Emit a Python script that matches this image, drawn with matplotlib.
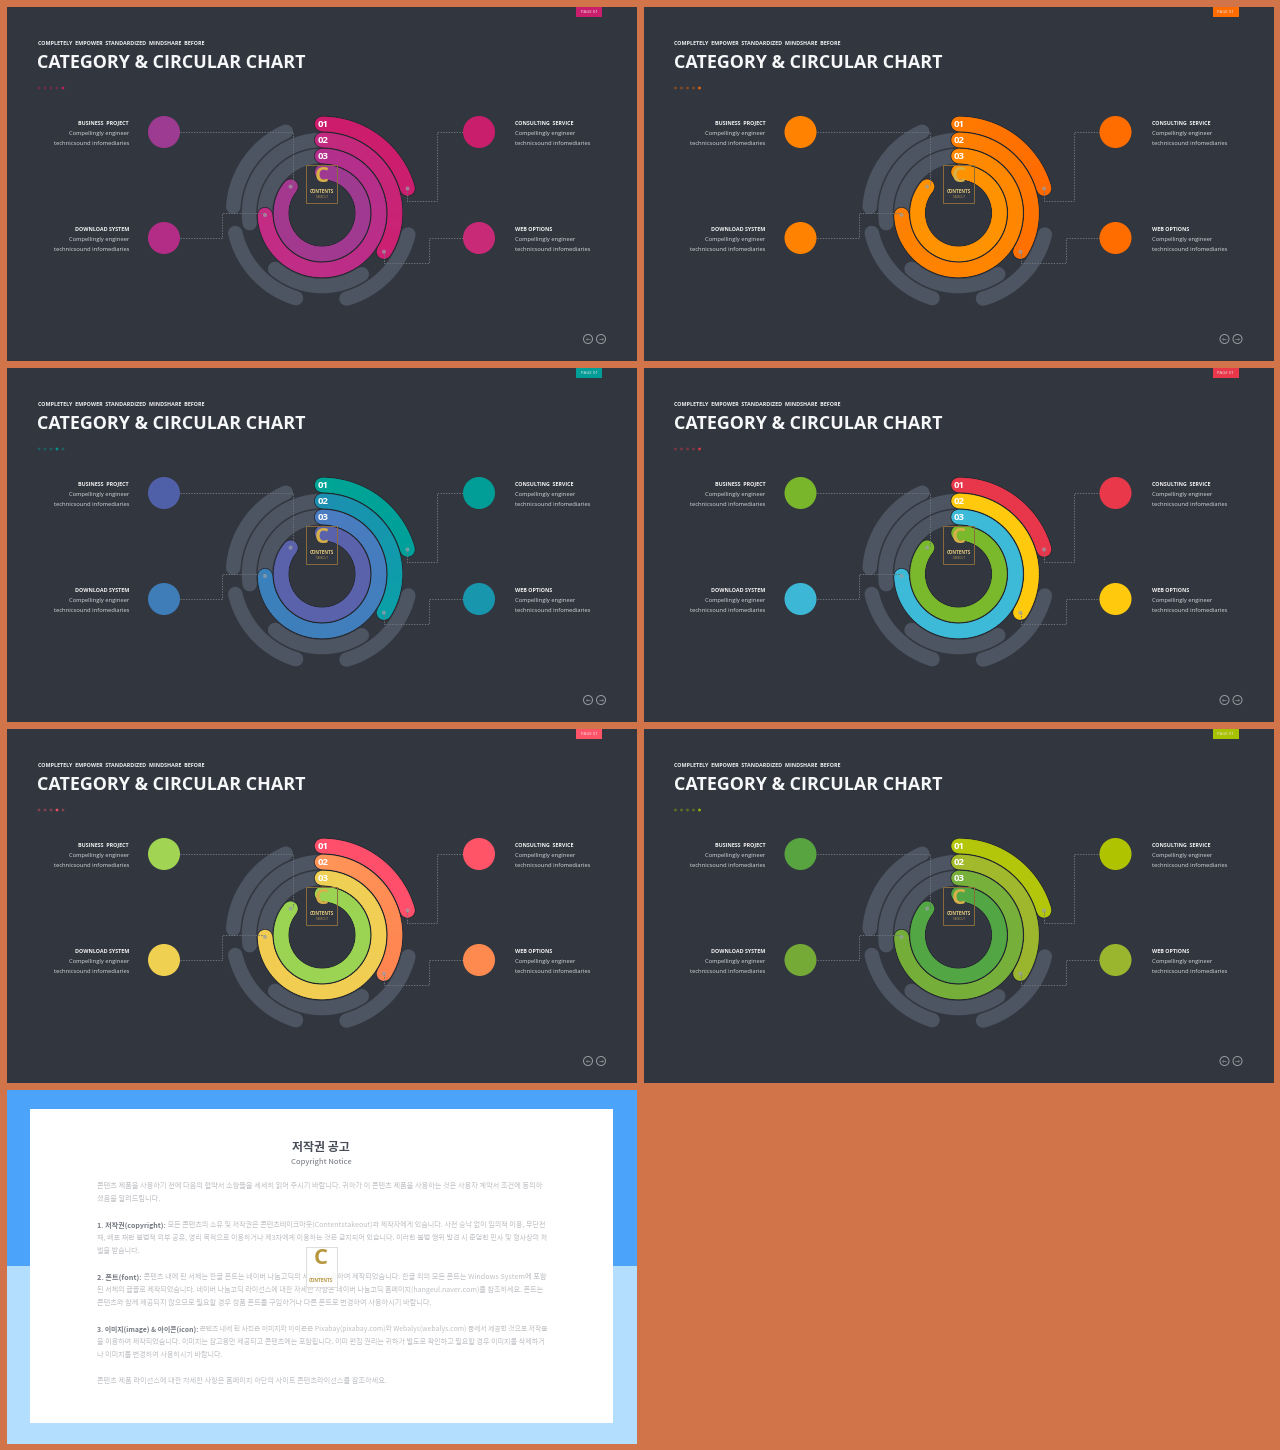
import numpy as np
import matplotlib
matplotlib.use('Agg')
import matplotlib.pyplot as plt
from matplotlib.collections import LineCollection
from matplotlib.colors import to_rgb
from matplotlib.patches import Circle, Rectangle

plt.rcParams['font.family'] = ['Open Sans', 'DejaVu Sans']

heading = 'COMPLETELY  EMPOWER  STANDARDIZED  MINDSHARE  BEFORE'
title = 'CATEGORY & CIRCULAR CHART'
page_tag = 'PAGE 01'
label_titles = ['BUSINESS  PROJECT', 'CONSULTING  SERVICE', 'DOWNLOAD SYSTEM', 'WEB OPTIONS']
label_lines = ['Compellingly engineer', 'technicsound infomediaries']
ring_labels = ['01', '02', '03']

# rings: radius, end angle (degrees clockwise from 12 o'clock)
ring_radius = [89, 73, 57, 41]
ring_end = [74, 122, 268, 310]

# grey background arcs: radius, from, to
grey_radius = [89, 89, 89, 73, 73, 57]
grey_start = [274, 197, 104, 262, 147, 270]
grey_end = [336, 257, 164, 360, 220, 360]

# per panel colours, ring start -> ring end
ring_start_cols = [
    ['#CE1C6C', '#C12A7E', '#B22F8C', '#9E3A92'],
    ['#FF7A00', '#FF7F00', '#FF8A00', '#FF9200'],
    ['#00A596', '#1C8FB0', '#4A7CC0', '#5A62AC'],
    ['#E8374B', '#FFC90E', '#3DBAD8', '#7AB82C'],
    ['#FF4F6A', '#FF9558', '#EFD055', '#9AD452'],
    ['#B4C60A', '#A4BA2C', '#78B03C', '#52A644'],
]
ring_end_cols = [
    ['#CC1E6E', '#CC2072', '#C42C84', '#A4388E'],
    ['#FF6A00', '#FF7000', '#FF8000', '#FF9200'],
    ['#00A09A', '#0BA0A8', '#3A80BA', '#5A62AC'],
    ['#E8374B', '#FFC90E', '#3DBAD8', '#7AB82C'],
    ['#FF4F6A', '#FF8450', '#F2CC50', '#9AD452'],
    ['#B4C60A', '#9AB52E', '#74AE38', '#52A644'],
]
# business, consulting, download, web
circle_cols = [
    ['#9D3B92', '#C91E6C', '#B32C86', '#C92A78'],
    ['#FF8200', '#FF6D00', '#FF8200', '#FF6D00'],
    ['#5060A8', '#009E96', '#3F7DB8', '#1896AE'],
    ['#7AB62C', '#E8384A', '#3CB8D6', '#FFC90E'],
    ['#A0D452', '#FF5468', '#F0D050', '#FF8A50'],
    ['#57A441', '#AFC300', '#74AA35', '#9AB52E'],
]
tag_cols = ['#C91E6C', '#FF6D00', '#009E96', '#E8384A', '#FF5468', '#A6C200']
active_dot = [4, 4, 3, 4, 3, 4]

notice_title = '저작권 공고'
notice_sub = 'Copyright Notice'
notice_lines = [
    ('', '콘텐츠 제품을 사용하기 전에 다음의 협약서 소항들을 세세히 읽어 주시기 바랍니다. 귀하가 이 콘텐츠 제품을 사용하는 것은 사용자 계약서 조건에 동의하'),
    ('', '셨음을 알려드립니다.'),
    ('1. 저작권(copyright):', ' 모든 콘텐츠의 소유 및 저작권은 콘텐츠테이크아웃(Contentstakeout)과 제작자에게 있습니다. 사전 승낙 없이 임의적 이용, 무단전'),
    ('', '재, 배포 재판 불법적 외부 공유, 영리 목적으로 이용하거나 제3자에게 이용하는 것은 금지되어 있습니다. 이러한 불법 행위 발견 시 준엄한 민사 및 형사상의 처'),
    ('', '벌을 받습니다.'),
    ('2. 폰트(font):', ' 콘텐츠 내에 된 서체는 한글 폰트는 네이버 나눔고딕의 서체를 사용하여 제작되었습니다. 한글 외의 모든 폰트는 Windows System에 포함'),
    ('', '된 서체의 글꼴로 제작되었습니다. 네이버 나눔고딕 라이선스에 대한 자세한 사항은 네이버 나눔고딕 홈페이지(hangeul.naver.com)를 참조하세요. 폰트는'),
    ('', '콘텐츠와 함께 제공되지 않으므로 필요할 경우 정품 폰트를 구입하거나 다른 폰트로 변경하여 사용하시기 바랍니다.'),
    ('3. 이미지(image) & 아이콘(icon):', ' 콘텐츠 내에 된 사진은 이미지와 아이콘은 Pixabay(pixabay.com)와 Webalys(webalys.com) 등에서 제공한 것으로 저작물'),
    ('', '을 이용하여 제작되었습니다. 이미지는 참고용만 제공되고 콘텐츠에는 포함됩니다. 이미 편집 권리는 귀하가 별도로 확인하고 필요할 경우 이미지를 삭제하거'),
    ('', '나 이미지를 변경하여 사용하시기 바랍니다.'),
    ('', '콘텐츠 제품 라이선스에 대한 자세한 사항은 홈페이지 하단의 사이트 콘텐츠라이선스를 참조하세요.'),
]
notice_y = [1186, 1199, 1225, 1238, 1251, 1277, 1290, 1303, 1329, 1342, 1355, 1381]
notice_right = [547, 160, 547, 547, 140, 547, 547, 433, 547, 547, 223, 387]

ORANGE = '#D1744A'
PANEL = '#32363F'
GREY = '#4C5561'
OUTLINE = '#22252C'
CJK = ['Noto Sans CJK KR', 'DejaVu Sans']
RING_W = 14.5


def px(v):
    # pixel size to points at dpi 100
    return v * 0.72


def arc_xy(cx, cy, r, a0, a1, n=120):
    t = np.radians(np.linspace(a0, a1, n))
    return cx + r * np.sin(t), cy - r * np.cos(t)


def solid_arc(ax, cx, cy, r, a0, a1, col, lw):
    x, y = arc_xy(cx, cy, r, a0, a1)
    ax.plot(x, y, color=col, lw=px(lw), solid_capstyle='round', zorder=2)


def gradient_arc(ax, cx, cy, r, a0, a1, col0, col1):
    x, y = arc_xy(cx, cy, r, a0, a1)
    pts = np.column_stack([x, y])
    # segments overlap by one step so no seams show
    segs = np.stack([pts[:-2], pts[2:]], axis=1)
    c0, c1 = np.array(to_rgb(col0)), np.array(to_rgb(col1))
    f = np.linspace(0, 1, len(segs))[:, None]
    ax.add_patch(Circle((x[0], y[0]), RING_W / 2, fc=col0, ec='none', zorder=2))
    ax.add_patch(Circle((x[-1], y[-1]), RING_W / 2, fc=col1, ec='none', zorder=2))
    ax.add_collection(LineCollection(segs, colors=c0 + (c1 - c0) * f, linewidths=px(RING_W),
                                     capstyle='butt', zorder=2))


def dotted(ax, xs, ys):
    ax.plot(xs, ys, color='#6E737B', lw=0.75, ls=(0, (1.3, 1.3)), zorder=4)


def logo(ax, cx, top, edge):
    ax.add_patch(Rectangle((cx - 16, top), 31, 38, fill=False, ec=edge, lw=0.7, zorder=6))
    ax.text(cx, top + 11, 'C', color='#D8B04A', fontsize=px(22), fontweight='bold',
            ha='center', va='center', zorder=7)
    ax.text(cx, top + 26, 'CONTENTS', color='#E2C67C', fontsize=px(4.6), fontweight='bold',
            ha='center', va='center', zorder=7)
    ax.text(cx, top + 31.5, 'TAKEOUT', color='#B79A55', fontsize=px(2.8), ha='center', va='center', zorder=7)


def draw_panel(ax, i):
    ox = 636.5 * (i % 2)
    oy = 361 * (i // 2)
    ax.add_patch(Rectangle((7 + ox, 7 + oy), 630, 354, fc=PANEL, ec='none'))

    # header
    ax.text(38 + ox, 43 + oy, heading, color='#ECEDEE', fontsize=px(5.38), fontweight='bold', va='center')
    ax.text(37 + ox, 63 + oy, title, color='#F6F7F8', fontsize=px(17.9), fontweight='bold', va='center')
    for d in range(5):
        lit = d == active_dot[i]
        ax.add_patch(Circle((39 + 6 * d + ox, 88 + oy), 1.4, fc=tag_cols[i], ec='none', alpha=0.9 if lit else 0.4))

    # page tag
    ax.add_patch(Rectangle((576 + ox, 7 + oy), 26, 10, fc=tag_cols[i], ec='none'))
    ax.text(589 + ox, 12 + oy, page_tag, color='#F4E6EE', fontsize=px(4.2), ha='center', va='center')

    # nav buttons
    for bx, arrow in zip([588, 601], ['←', '→']):
        ax.add_patch(Circle((bx + ox, 339 + oy), 4.5, fill=False, ec='#989BA1', lw=0.7))
        ax.text(bx + ox, 339 + oy, arrow, color='#989BA1', fontsize=px(6), ha='center', va='center',
                family='DejaVu Sans')

    cx, cy = 322 + ox, 213 + oy

    # connectors
    dotted(ax, np.array([180, 293, 293]) + ox, np.array([132, 132, 185]) + oy)
    dotted(ax, np.array([180, 222, 222, 264]) + ox, np.array([238, 238, 213, 213]) + oy)
    dotted(ax, np.array([463, 437, 437, 407, 407]) + ox, np.array([132, 132, 201, 201, 189]) + oy)
    dotted(ax, np.array([463, 429, 429, 384, 384]) + ox, np.array([238, 238, 263, 263, 251]) + oy)

    # grey arcs
    for r, a0, a1 in zip(grey_radius, grey_start, grey_end):
        solid_arc(ax, cx, cy, r, a0, a1, GREY, RING_W)

    # coloured rings, outer first so that the outlines stack right
    for k in range(4):
        r = ring_radius[k]
        solid_arc(ax, cx, cy, r, 0, ring_end[k], OUTLINE, RING_W + 1.6)
        gradient_arc(ax, cx, cy, r, 0, ring_end[k], ring_start_cols[i][k], ring_end_cols[i][k])
        ex, ey = arc_xy(cx, cy, r, ring_end[k], ring_end[k], n=1)
        ax.add_patch(Circle((ex[0], ey[0]), 2, fc='#9AA0A8', ec='none', alpha=0.7, zorder=5))

    for lab, r in zip(ring_labels, ring_radius):
        ax.text(cx + 1, cy - r, lab, color='white', fontsize=px(9.5), fontweight='bold',
                ha='center', va='center', zorder=6)

    logo(ax, cx, 165 + oy, '#8A6D3B')

    # side circles and labels
    sides = [(164, 132, 129, 'right'), (479, 132, 515, 'left'), (164, 238, 129, 'right'), (479, 238, 515, 'left')]
    for j, (bx, by, tx, ha) in enumerate(sides):
        ax.add_patch(Circle((bx + ox, by + oy), 16, fc=circle_cols[i][j], ec='none', zorder=5))
        ax.text(tx + ox, by - 9 + oy, label_titles[j], color='#F0F0F0', fontsize=px(5.4), fontweight='bold',
                ha=ha, va='center')
        for n, line in enumerate(label_lines):
            ax.text(tx + ox, by + 1 + 10 * n + oy, line, color='#D6D8DB', fontsize=px(5.8), ha=ha, va='center')


def fit_line(parts, right, renderer):
    # shrink or grow the runs of one line until it ends at right
    for _ in range(3):
        total = sum(p.get_window_extent(renderer).width for p in parts)
        scale = (right - 97) / total
        pos = 97
        for p in parts:
            p.set_fontsize(p.get_fontsize() * scale)
            p.set_x(pos)
            pos += p.get_window_extent(renderer).width


def draw_notice(ax, fig):
    ax.add_patch(Rectangle((7, 1090), 630, 176, fc='#4BA4FA', ec='none'))
    ax.add_patch(Rectangle((7, 1266), 630, 178, fc='#B3DEFD', ec='none'))
    ax.add_patch(Rectangle((30, 1109), 583, 314, fc='white', ec='none'))
    ax.text(321, 1147, notice_title, color='#484D58', fontsize=px(12), fontweight='bold', family=CJK,
            ha='center', va='center')
    ax.text(321, 1162, notice_sub, color='#70747C', fontsize=px(7.7), family=CJK, ha='center', va='center')

    renderer = fig.canvas.get_renderer()
    for (bold, body), y, right in zip(notice_lines, notice_y, notice_right):
        parts = []
        if bold:
            parts.append(ax.text(97, y, bold, color='#777B83', fontsize=px(7.4), fontweight='bold',
                                 family=CJK, va='center'))
        parts.append(ax.text(97, y, body, color='#C0C2C6', fontsize=px(7.4), family=CJK, va='center'))
        fit_line(parts, right, renderer)

    ax.add_patch(Rectangle((306, 1247), 31, 40, fc='#FFFFFF', ec='#D8D8D8', lw=0.7, alpha=0.85, zorder=6))
    ax.text(321, 1258, 'C', color='#B8963E', fontsize=px(22), fontweight='bold', ha='center', va='center', zorder=7)
    ax.text(321, 1280, 'CONTENTS', color='#B8963E', fontsize=px(4.6), fontweight='bold', ha='center', va='center', zorder=7)


fig = plt.figure(figsize=(12.8, 14.5), dpi=100, facecolor=ORANGE)
ax = fig.add_axes([0, 0, 1, 1])
ax.set_xlim(0, 1280)
ax.set_ylim(1450, 0)
ax.axis('off')

for i in range(6):
    draw_panel(ax, i)
draw_notice(ax, fig)

fig.savefig('out.png', dpi=100, facecolor=ORANGE)
